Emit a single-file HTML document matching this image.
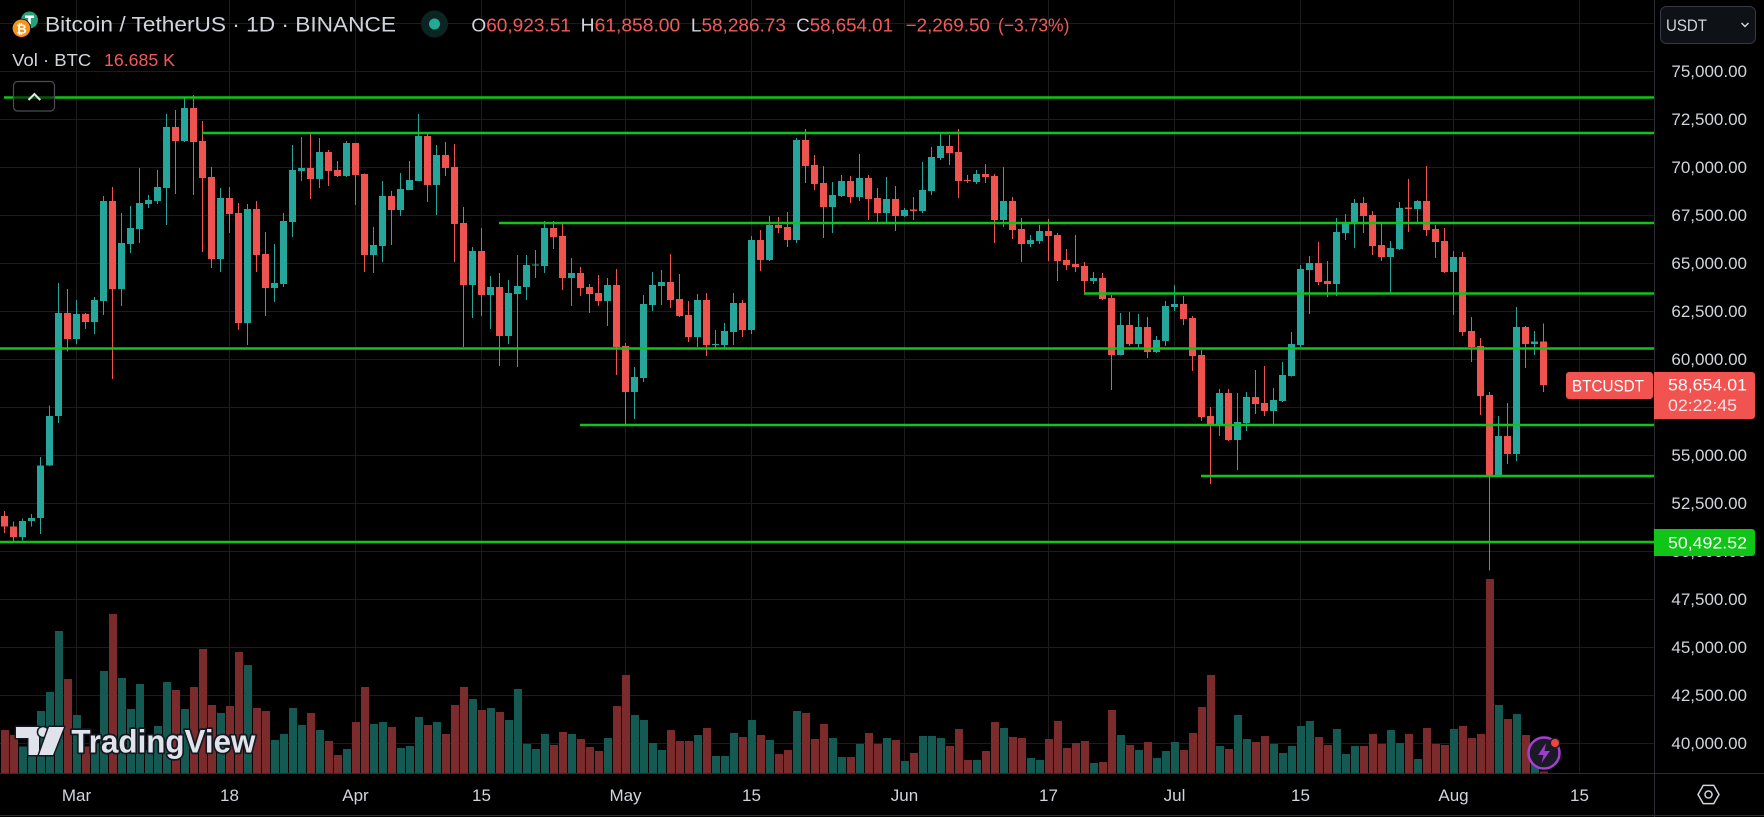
<!DOCTYPE html>
<html><head><meta charset="utf-8">
<style>
html,body{margin:0;padding:0;background:#000;}
body{width:1764px;height:817px;overflow:hidden;}
svg{display:block;}
text{font-family:"Liberation Sans",sans-serif;}
</style></head>
<body>
<svg width="1764" height="817" viewBox="0 0 1764 817" xmlns="http://www.w3.org/2000/svg">
<rect width="1764" height="817" fill="#000"/>
<!-- grid -->
<path fill="none" stroke="#1c1c1c" stroke-width="1" shape-rendering="crispEdges" d="M0 23.5H1654M0 71.5H1654M0 119.5H1654M0 167.5H1654M0 215.5H1654M0 263.5H1654M0 311.5H1654M0 359.5H1654M0 407.5H1654M0 455.5H1654M0 503.5H1654M0 551.5H1654M0 599.5H1654M0 647.5H1654M0 695.5H1654M0 743.5H1654M76.5 0V773M229.5 0V773M355.5 0V773M481.5 0V773M625.5 0V773M751.5 0V773M904.5 0V773M1048.5 0V773M1174.5 0V773M1300.5 0V773M1453.5 0V773M1579.5 0V773"/>
<!-- volume -->
<g transform="matrix(1 0 0 0.333333 0 590)" shape-rendering="crispEdges">
<path fill="#145a52" d="M19 470h8v79h-8zM28 475h8v74h-8zM37 363h8v186h-8zM46 306h8v243h-8zM55 123h8v426h-8zM73 375h8v174h-8zM91 460h8v89h-8zM100 243h8v306h-8zM118 264h8v285h-8zM127 357h8v192h-8zM136 282h8v267h-8zM145 480h8v69h-8zM154 408h8v141h-8zM163 276h8v273h-8zM181 357h8v192h-8zM217 369h8v180h-8zM244 225h8v324h-8zM271 450h8v99h-8zM280 432h8v117h-8zM289 354h8v195h-8zM298 405h8v144h-8zM316 420h8v129h-8zM343 477h8v72h-8zM370 402h8v147h-8zM379 396h8v153h-8zM397 474h8v75h-8zM406 468h8v81h-8zM415 381h8v168h-8zM433 396h8v153h-8zM469 327h8v222h-8zM487 354h8v195h-8zM505 390h8v159h-8zM514 297h8v252h-8zM523 462h8v87h-8zM532 477h8v72h-8zM541 432h8v117h-8zM568 432h8v117h-8zM604 444h8v105h-8zM631 375h8v174h-8zM640 390h8v159h-8zM649 459h8v90h-8zM658 480h8v69h-8zM694 435h8v114h-8zM712 498h8v51h-8zM721 498h8v51h-8zM730 429h8v120h-8zM748 390h8v159h-8zM766 450h8v99h-8zM793 363h8v186h-8zM829 444h8v105h-8zM838 501h8v48h-8zM856 462h8v87h-8zM883 444h8v105h-8zM901 513h8v36h-8zM919 438h8v111h-8zM928 438h8v111h-8zM937 444h8v105h-8zM973 510h8v39h-8zM1000 414h8v135h-8zM1027 504h8v45h-8zM1036 510h8v39h-8zM1090 519h8v30h-8zM1117 435h8v114h-8zM1135 480h8v69h-8zM1153 504h8v45h-8zM1162 483h8v66h-8zM1171 456h8v93h-8zM1216 468h8v81h-8zM1234 375h8v174h-8zM1243 447h8v102h-8zM1270 462h8v87h-8zM1279 489h8v60h-8zM1288 468h8v81h-8zM1297 408h8v141h-8zM1306 393h8v156h-8zM1333 417h8v132h-8zM1342 492h8v57h-8zM1351 468h8v81h-8zM1387 420h8v129h-8zM1396 459h8v90h-8zM1414 507h8v42h-8zM1450 417h8v132h-8zM1495 345h8v204h-8zM1513 372h8v177h-8zM1531 520h8v29h-8z"/>
<path fill="#7b2b2b" d="M1 420h8v129h-8zM10 435h8v114h-8zM64 267h8v282h-8zM82 470h8v79h-8zM109 72h8v477h-8zM172 300h8v249h-8zM190 291h8v258h-8zM199 177h8v372h-8zM208 345h8v204h-8zM226 348h8v201h-8zM235 186h8v363h-8zM253 354h8v195h-8zM262 363h8v186h-8zM307 369h8v180h-8zM325 453h8v96h-8zM334 495h8v54h-8zM352 396h8v153h-8zM361 291h8v258h-8zM388 411h8v138h-8zM424 405h8v144h-8zM442 432h8v117h-8zM451 345h8v204h-8zM460 291h8v258h-8zM478 360h8v189h-8zM496 366h8v183h-8zM550 465h8v84h-8zM559 426h8v123h-8zM577 447h8v102h-8zM586 471h8v78h-8zM595 483h8v66h-8zM613 348h8v201h-8zM622 255h8v294h-8zM667 420h8v129h-8zM676 453h8v96h-8zM685 453h8v96h-8zM703 414h8v135h-8zM739 441h8v108h-8zM757 435h8v114h-8zM775 492h8v57h-8zM784 480h8v69h-8zM802 369h8v180h-8zM811 447h8v102h-8zM820 402h8v147h-8zM847 501h8v48h-8zM865 429h8v120h-8zM874 462h8v87h-8zM892 450h8v99h-8zM910 489h8v60h-8zM946 468h8v81h-8zM955 417h8v132h-8zM964 510h8v39h-8zM982 483h8v66h-8zM991 396h8v153h-8zM1009 441h8v108h-8zM1018 444h8v105h-8zM1045 447h8v102h-8zM1054 393h8v156h-8zM1063 474h8v75h-8zM1072 459h8v90h-8zM1081 453h8v96h-8zM1099 516h8v33h-8zM1108 360h8v189h-8zM1126 465h8v84h-8zM1144 456h8v93h-8zM1180 480h8v69h-8zM1189 429h8v120h-8zM1198 351h8v198h-8zM1207 255h8v294h-8zM1225 477h8v72h-8zM1252 456h8v93h-8zM1261 438h8v111h-8zM1315 441h8v108h-8zM1324 465h8v84h-8zM1360 468h8v81h-8zM1369 432h8v117h-8zM1378 462h8v87h-8zM1405 432h8v117h-8zM1423 414h8v135h-8zM1432 462h8v87h-8zM1441 465h8v84h-8zM1459 408h8v141h-8zM1468 444h8v105h-8zM1477 432h8v117h-8zM1486 -33h8v582h-8zM1504 387h8v162h-8zM1522 435h8v114h-8zM1540 545h8v4h-8z"/>
</g>
<!-- candles: y in price units -->
<g transform="matrix(1 0 0 -0.0192 0 1511.3)" shape-rendering="crispEdges">
<path fill="#26a69a" d="M22 50560h1v1140h-1zM19 50740h7v830h-7zM31 51280h1v670h-1zM28 51570h7v160h-7zM40 50900h1v4000h-1zM37 51730h7v2750h-7zM49 54450h1v3140h-1zM46 54480h7v2560h-7zM58 56690h1v7280h-1zM55 57040h7v5370h-7zM76 60800h1v2290h-1zM73 61060h7v1300h-7zM94 61320h1v1930h-1zM91 61940h7v1150h-7zM103 62310h1v6190h-1zM100 63040h7v5205h-7zM121 62780h1v4840h-1zM118 63660h7v2400h-7zM130 65540h1v2440h-1zM127 66010h7v830h-7zM139 66060h1v3900h-1zM136 66790h7v1350h-7zM148 67880h1v680h-1zM145 68090h7v210h-7zM157 68090h1v1770h-1zM154 68245h7v730h-7zM166 67000h1v5780h-1zM163 68920h7v3180h-7zM184 71320h1v2340h-1zM181 71370h7v1720h-7zM220 64550h1v4370h-1zM217 65225h7v3175h-7zM247 60745h1v7345h-1zM244 61890h7v5940h-7zM274 62985h1v3020h-1zM271 63715h7v260h-7zM283 63765h1v3855h-1zM280 63920h7v3280h-7zM292 66370h1v4790h-1zM289 67150h7v2710h-7zM301 69290h1v2290h-1zM298 69805h7v160h-7zM319 68920h1v2605h-1zM316 69390h7v1405h-7zM346 69500h1v1870h-1zM343 69545h7v1720h-7zM373 64495h1v2395h-1zM370 65430h7v520h-7zM382 65070h1v4215h-1zM379 65900h7v2605h-7zM400 67465h1v2235h-1zM397 67775h7v1095h-7zM409 68820h1v1510h-1zM406 68820h7v520h-7zM418 69285h1v3490h-1zM415 69285h7v2345h-7zM436 67515h1v3645h-1zM433 69080h7v1560h-7zM472 62150h1v3700h-1zM469 63870h7v1770h-7zM490 61580h1v2760h-1zM487 63350h7v415h-7zM508 60800h1v3330h-1zM505 61215h7v2240h-7zM517 59600h1v5835h-1zM514 63400h7v420h-7zM526 63090h1v2345h-1zM523 63765h7v1145h-7zM535 64235h1v1460h-1zM532 64880h7v60h-7zM544 64495h1v2710h-1zM541 64860h7v1980h-7zM571 62775h1v2500h-1zM568 64235h7v260h-7zM607 61735h1v2500h-1zM604 63035h7v835h-7zM634 56890h1v2710h-1zM631 58295h7v785h-7zM643 58820h1v4530h-1zM640 59025h7v3855h-7zM652 62515h1v2030h-1zM649 62830h7v1040h-7zM661 62830h1v1820h-1zM658 63820h7v205h-7zM697 60640h1v2760h-1zM694 61160h7v1930h-7zM715 60535h1v990h-1zM712 60745h7v60h-7zM724 60590h1v1300h-1zM721 60745h7v730h-7zM733 60745h1v2710h-1zM730 61420h7v1515h-7zM751 61320h1v5100h-1zM748 61525h7v4690h-7zM769 65120h1v2345h-1zM766 65170h7v1825h-7zM796 66060h1v5465h-1zM793 66215h7v5205h-7zM832 66580h1v2655h-1zM829 67930h7v625h-7zM841 68450h1v1150h-1zM838 68505h7v780h-7zM859 68245h1v2445h-1zM856 68455h7v990h-7zM886 67100h1v2395h-1zM883 67620h7v730h-7zM904 67410h1v470h-1zM901 67465h7v310h-7zM922 67620h1v2655h-1zM919 67725h7v1095h-7zM931 68555h1v2500h-1zM928 68765h7v1770h-7zM940 70380h1v1355h-1zM937 70485h7v625h-7zM976 69130h1v730h-1zM973 69235h7v415h-7zM1003 66890h1v3125h-1zM1000 67255h7v990h-7zM1030 65850h1v625h-1zM1027 66005h7v210h-7zM1039 66005h1v990h-1zM1036 66160h7v525h-7zM1093 63920h1v625h-1zM1090 64080h7v155h-7zM1120 60200h1v2210h-1zM1117 60225h7v1565h-7zM1138 60590h1v1770h-1zM1135 60795h7v890h-7zM1156 60330h1v885h-1zM1153 60380h7v625h-7zM1165 60690h1v2345h-1zM1162 60955h7v1820h-7zM1174 62515h1v1355h-1zM1171 62725h7v155h-7zM1219 56005h1v2450h-1zM1216 56580h7v1665h-7zM1237 54235h1v4010h-1zM1234 55800h7v935h-7zM1246 56265h1v2035h-1zM1243 56685h7v1350h-7zM1273 56525h1v1980h-1zM1270 57310h7v570h-7zM1282 57775h1v2085h-1zM1279 57830h7v1355h-7zM1291 59100h1v2325h-1zM1288 59130h7v1670h-7zM1300 60640h1v4270h-1zM1297 60745h7v3960h-7zM1309 62360h1v3020h-1zM1306 64650h7v365h-7zM1336 63295h1v4065h-1zM1333 63920h7v2710h-7zM1345 66215h1v1355h-1zM1342 66580h7v570h-7zM1354 65795h1v2555h-1zM1351 67100h7v1040h-7zM1390 63455h1v2705h-1zM1387 65330h7v465h-7zM1399 65700h1v2495h-1zM1396 65745h7v2135h-7zM1417 67100h1v1195h-1zM1414 67830h7v415h-7zM1453 62310h1v3330h-1zM1450 64545h7v785h-7zM1498 53900h1v3150h-1zM1495 53975h7v2030h-7zM1516 54705h1v8020h-1zM1513 55070h7v6615h-7zM1534 60225h1v1250h-1zM1531 60800h7v123h-7z"/>
<path fill="#ef5350" d="M4 50950h1v1150h-1zM1 51290h7v560h-7zM13 50520h1v1030h-1zM10 50740h7v550h-7zM67 60400h1v3260h-1zM64 61060h7v1350h-7zM85 61580h1v820h-1zM82 61940h7v420h-7zM112 58975h1v10000h-1zM109 63660h7v4585h-7zM175 68610h1v4375h-1zM172 71370h7v730h-7zM193 68560h1v5205h-1zM190 71320h7v1770h-7zM202 65590h1v6820h-1zM199 69440h7v1930h-7zM211 64755h1v5260h-1zM208 65225h7v4270h-7zM229 66580h1v2395h-1zM226 67570h7v830h-7zM238 61525h1v6615h-1zM235 61890h7v5730h-7zM256 64550h1v3695h-1zM253 65430h7v2400h-7zM265 62255h1v4375h-1zM262 63715h7v1770h-7zM310 68350h1v3435h-1zM307 69390h7v575h-7zM328 69025h1v1875h-1zM325 69805h7v990h-7zM337 69500h1v830h-1zM334 69545h7v315h-7zM355 68035h1v3230h-1zM352 69600h7v1665h-7zM364 64545h1v5135h-1zM361 65430h7v4220h-7zM391 65950h1v2815h-1zM388 67775h7v730h-7zM427 68195h1v3540h-1zM424 69080h7v2550h-7zM445 69545h1v1770h-1zM442 69965h7v675h-7zM454 65070h1v6145h-1zM451 67045h7v2970h-7zM463 60640h1v7290h-1zM460 63870h7v3230h-7zM481 62255h1v4585h-1zM478 63350h7v2290h-7zM499 59650h1v4845h-1zM496 61215h7v2550h-7zM553 65745h1v1460h-1zM550 66370h7v470h-7zM562 63610h1v3435h-1zM559 64235h7v2185h-7zM580 63295h1v1515h-1zM577 63715h7v780h-7zM589 62410h1v1510h-1zM586 63400h7v365h-7zM598 62775h1v1615h-1zM595 63035h7v420h-7zM616 59185h1v5520h-1zM613 60640h7v3230h-7zM625 56525h1v4325h-1zM622 58295h7v2395h-7zM670 62670h1v2815h-1zM667 63090h7v935h-7zM679 62200h1v2245h-1zM676 62255h7v885h-7zM688 60900h1v2135h-1zM685 61160h7v1145h-7zM706 60170h1v3285h-1zM703 60745h7v2345h-7zM742 61160h1v1930h-1zM739 61525h7v1410h-7zM760 64600h1v2135h-1zM757 65170h7v1045h-7zM778 66580h1v830h-1zM775 66840h7v155h-7zM787 65850h1v1820h-1zM784 66215h7v675h-7zM805 69180h1v2815h-1zM802 70070h7v1350h-7zM814 68820h1v1820h-1zM811 69130h7v990h-7zM823 66320h1v3750h-1zM820 67930h7v1250h-7zM850 68140h1v1405h-1zM847 68455h7v830h-7zM868 67255h1v2345h-1zM865 68350h7v1095h-7zM877 67100h1v1820h-1zM874 67620h7v780h-7zM895 66685h1v2340h-1zM892 67465h7v885h-7zM913 67255h1v1200h-1zM910 67730h7v60h-7zM949 70120h1v1560h-1zM946 70745h7v365h-7zM958 68400h1v3595h-1zM955 69285h7v1510h-7zM967 69180h1v420h-1zM964 69275h7v60h-7zM985 69180h1v990h-1zM982 69495h7v155h-7zM994 66060h1v3590h-1zM991 67255h7v2290h-7zM1012 66265h1v2190h-1zM1009 66735h7v1510h-7zM1021 65070h1v2290h-1zM1018 66005h7v780h-7zM1048 65120h1v2185h-1zM1045 66420h7v265h-7zM1057 64080h1v2500h-1zM1054 65120h7v1355h-7zM1066 64650h1v1095h-1zM1063 64910h7v260h-7zM1075 64545h1v1930h-1zM1072 64810h7v150h-7zM1084 63350h1v1720h-1zM1081 64080h7v780h-7zM1102 63100h1v1395h-1zM1099 63140h7v1095h-7zM1111 58400h1v4950h-1zM1108 60225h7v2965h-7zM1129 60690h1v1775h-1zM1126 60795h7v995h-7zM1147 60070h1v2135h-1zM1144 60380h7v1305h-7zM1183 61785h1v1510h-1zM1180 62100h7v780h-7zM1192 59390h1v2865h-1zM1189 60170h7v1980h-7zM1201 56790h1v3695h-1zM1198 56995h7v3230h-7zM1210 53505h1v4010h-1zM1207 56580h7v465h-7zM1228 55745h1v2710h-1zM1225 55800h7v2445h-7zM1255 57150h1v2295h-1zM1252 57675h7v360h-7zM1264 57045h1v2605h-1zM1261 57310h7v415h-7zM1318 63870h1v2240h-1zM1315 64025h7v990h-7zM1327 63245h1v1875h-1zM1324 63920h7v160h-7zM1363 66580h1v1875h-1zM1360 67465h7v675h-7zM1372 65435h1v2290h-1zM1369 65900h7v1615h-7zM1381 65120h1v1980h-1zM1378 65330h7v625h-7zM1408 66630h1v2760h-1zM1405 67840h7v60h-7zM1426 66420h1v3650h-1zM1423 66735h7v1510h-7zM1435 65275h1v1720h-1zM1432 66110h7v675h-7zM1444 64500h1v2340h-1zM1441 64545h7v1615h-7zM1462 61215h1v4375h-1zM1459 61425h7v3905h-7zM1471 59860h1v2345h-1zM1468 60640h7v835h-7zM1480 57100h1v4010h-1zM1477 58090h7v2600h-7zM1489 49000h1v9300h-1zM1486 53975h7v4165h-7zM1507 54550h1v3175h-1zM1504 55070h7v935h-7zM1525 59550h1v2185h-1zM1522 60800h7v885h-7zM1543 58286h1v3572h-1zM1540 58654h7v2269h-7z"/>
</g>
<!-- horizontal levels -->
<g stroke="#10c418" stroke-width="2.5">
<line x1="4" y1="97.5" x2="1654" y2="97.5"/>
<line x1="202" y1="133" x2="1654" y2="133"/>
<line x1="499" y1="223" x2="1654" y2="223"/>
<line x1="1084" y1="293.5" x2="1654" y2="293.5"/>
<line x1="0" y1="348.5" x2="1654" y2="348.5"/>
<line x1="580" y1="425" x2="1654" y2="425"/>
<line x1="1201" y1="476" x2="1654" y2="476"/>
<line x1="0" y1="542" x2="1654" y2="542"/>
</g>
<!-- axes separators -->
<path fill="none" stroke="#2a2d35" stroke-width="1" shape-rendering="crispEdges" d="M1654.5 0V817M0 773.5H1764M0 815.5H1764"/>
<!-- price axis labels -->
<g fill="#d1d4dc" font-size="17" text-anchor="end">
<text x="1747" y="77">75,000.00</text>
<text x="1747" y="125">72,500.00</text>
<text x="1747" y="173">70,000.00</text>
<text x="1747" y="221">67,500.00</text>
<text x="1747" y="269">65,000.00</text>
<text x="1747" y="317">62,500.00</text>
<text x="1747" y="365">60,000.00</text>
<text x="1747" y="413">57,500.00</text>
<text x="1747" y="461">55,000.00</text>
<text x="1747" y="509">52,500.00</text>
<text x="1747" y="557">50,000.00</text>
<text x="1747" y="605">47,500.00</text>
<text x="1747" y="653">45,000.00</text>
<text x="1747" y="701">42,500.00</text>
<text x="1747" y="749">40,000.00</text>
</g>
<!-- time axis labels -->
<g fill="#d1d4dc" font-size="17" text-anchor="middle">
<text x="76.5" y="801">Mar</text>
<text x="229.5" y="801">18</text>
<text x="355.5" y="801">Apr</text>
<text x="481.5" y="801">15</text>
<text x="625.5" y="801">May</text>
<text x="751.5" y="801">15</text>
<text x="904.5" y="801">Jun</text>
<text x="1048.5" y="801">17</text>
<text x="1174.5" y="801">Jul</text>
<text x="1300.5" y="801">15</text>
<text x="1453.5" y="801">Aug</text>
<text x="1579.5" y="801">15</text>
</g>
<!-- settings icon -->
<g fill="none" stroke="#d1d4dc" stroke-width="1.5">
<polygon points="1719,794.5 1713.75,803.6 1703.25,803.6 1698,794.5 1703.25,785.4 1713.75,785.4"/>
<circle cx="1708.5" cy="794.5" r="3.5"/>
</g>
<!-- USDT dropdown -->
<rect x="1660.5" y="6.5" width="95" height="37" rx="6" fill="#0e1116" stroke="#363a45"/>
<text x="1666" y="31" font-size="17" fill="#d1d4dc" textLength="41" lengthAdjust="spacingAndGlyphs">USDT</text>
<polyline points="1741.5,23 1745,26.5 1748.5,23" fill="none" stroke="#d1d4dc" stroke-width="1.5"/>
<!-- current price label -->
<rect x="1566" y="372" width="87" height="27" rx="3" fill="#f05350"/>
<text x="1572" y="391.5" font-size="17" fill="#fff" textLength="72" lengthAdjust="spacingAndGlyphs">BTCUSDT</text>
<path d="M1654 372H1752a3 3 0 0 1 3 3V416a3 3 0 0 1 -3 3H1654Z" fill="#f05350"/>
<text x="1668" y="390.5" font-size="17" fill="#fff" textLength="79" lengthAdjust="spacingAndGlyphs">58,654.01</text>
<text x="1668" y="411" font-size="17" fill="#fde2e2" textLength="69" lengthAdjust="spacingAndGlyphs">02:22:45</text>
<!-- green level label -->
<path d="M1654 529H1752a3 3 0 0 1 3 3V553a3 3 0 0 1 -3 3H1654Z" fill="#10c418"/>
<text x="1668" y="548.5" font-size="17" fill="#fff" textLength="79" lengthAdjust="spacingAndGlyphs">50,492.52</text>
<!-- collapse button -->
<rect x="13.5" y="81.5" width="41" height="29.5" rx="4" fill="rgba(0,0,0,0.55)" stroke="#4a4d55" stroke-width="1.2"/>
<polyline points="28.5,100 34.4,94 40.3,100" fill="none" stroke="#e6e8ee" stroke-width="2"/>
<!-- header icons -->
<circle cx="29.5" cy="20" r="8.5" fill="#26a17b"/>
<path d="M25 15.5h9v2.5h-3.2v6h-2.6v-6H25z" fill="#fff"/>
<circle cx="21.4" cy="28.3" r="9.6" fill="#000"/>
<circle cx="21.4" cy="28.3" r="8.8" fill="#f7931a"/>
<text x="21.4" y="33.3" font-size="13" font-weight="bold" fill="#fff" text-anchor="middle">₿</text>
<circle cx="434.5" cy="24" r="13.5" fill="#0b2622"/>
<circle cx="434.5" cy="24" r="5.5" fill="#22ab94"/>
<!-- header text -->
<text x="45" y="31.7" font-size="21" fill="#d1d4dc" textLength="351" lengthAdjust="spacingAndGlyphs">Bitcoin / TetherUS · 1D · BINANCE</text>
<g font-size="18.7">
<text x="471.4" y="31.7" textLength="99.5" lengthAdjust="spacingAndGlyphs"><tspan fill="#d1d4dc">O</tspan><tspan fill="#f25a5a">60,923.51</tspan></text>
<text x="580.7" y="31.7" textLength="99.5" lengthAdjust="spacingAndGlyphs"><tspan fill="#d1d4dc">H</tspan><tspan fill="#f25a5a">61,858.00</tspan></text>
<text x="690.9" y="31.7" textLength="95" lengthAdjust="spacingAndGlyphs"><tspan fill="#d1d4dc">L</tspan><tspan fill="#f25a5a">58,286.73</tspan></text>
<text x="796.2" y="31.7" textLength="96.8" lengthAdjust="spacingAndGlyphs"><tspan fill="#d1d4dc">C</tspan><tspan fill="#f25a5a">58,654.01</tspan></text>
<text x="905.6" y="31.7" fill="#f25a5a" textLength="84.3" lengthAdjust="spacingAndGlyphs">−2,269.50</text>
<text x="998" y="31.7" fill="#f25a5a" textLength="71.4" lengthAdjust="spacingAndGlyphs">(−3.73%)</text>
</g>
<text x="12.2" y="66" font-size="17.7" fill="#d1d4dc" textLength="79" lengthAdjust="spacingAndGlyphs">Vol · BTC</text>
<text x="104" y="66" font-size="17.7" fill="#f25a5a" textLength="71" lengthAdjust="spacingAndGlyphs">16.685 K</text>
<!-- TradingView logo -->
<g stroke="#151820" stroke-width="3" stroke-linejoin="round" fill="#e0e3eb" paint-order="stroke">
<path d="M16 727H39V755H28.5V738H16Z"/>
<circle cx="43" cy="732" r="4.8"/>
<path d="M49 727H64L53 755H39Z"/>
</g>
<text x="71.4" y="752.3" font-size="32" font-weight="bold" fill="#e0e3eb" stroke="#151820" stroke-width="3.5" paint-order="stroke" stroke-linejoin="round" textLength="184" lengthAdjust="spacingAndGlyphs">TradingView</text>
<!-- lightning icon -->
<circle cx="1544" cy="753" r="15.5" fill="#1b1a26" stroke="#a43fd0" stroke-width="2.5"/>
<path d="M1546 743L1538 755H1543.5L1541.5 763L1550 751H1544.5Z" fill="#9a3ccc"/>
<circle cx="1555" cy="743" r="5.5" fill="#1b1a26"/>
<circle cx="1555" cy="743" r="4" fill="#f0443f"/>
</svg>
</body></html>
